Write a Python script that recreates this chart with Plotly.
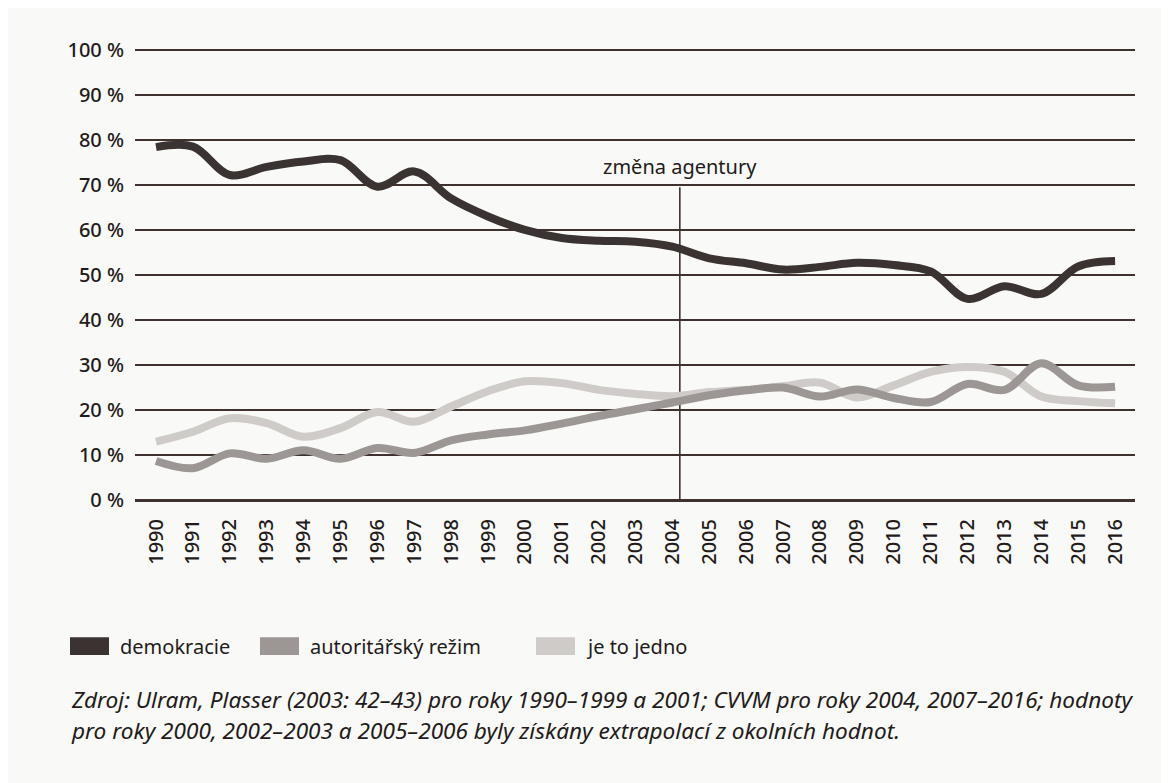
import plotly.graph_objects as go

# ---- data ----
years = list(range(1990, 2017))
year_labels = [str(y) for y in years]

demokracie = [78.4, 78.5, 72.2, 74.0, 75.2, 75.5, 69.6, 73.0, 67.0, 63.0,
              60.0, 58.2, 57.6, 57.4, 56.3, 53.7, 52.6, 51.2, 51.8, 52.7,
              52.2, 50.8, 44.7, 47.5, 45.8, 51.9, 53.1]

autoritarsky = [8.7, 7.1, 10.4, 9.2, 11.1, 9.2, 11.6, 10.5, 13.3, 14.6,
                15.5, 17.0, 18.7, 20.2, 21.7, 23.3, 24.4, 25.0, 23.0, 24.6,
                22.7, 21.8, 25.8, 24.5, 30.4, 25.5, 25.2]

je_to_jedno = [13.0, 15.2, 18.2, 17.1, 14.1, 16.0, 19.6, 17.4, 20.8, 24.2,
               26.4, 26.0, 24.5, 23.6, 23.1, 24.0, 24.5, 25.3, 26.1, 22.8,
               25.5, 28.5, 29.6, 28.5, 23.0, 22.0, 21.5]

series_names = ["demokracie", "autoritářský režim", "je to jedno"]
series_colors = ["#3b3332", "#9c9694", "#cfcbc8"]

y_ticks = list(range(0, 101, 10))
y_tick_labels = [f"{v} %" for v in y_ticks]

agency_change_year = 2004.2
agency_change_top = 69.5
agency_label = "změna agentury"
agency_label_y = 74

source_line1 = "Zdroj: Ulram, Plasser (2003: 42–43) pro roky 1990–1999 a 2001; CVVM pro roky 2004, 2007–2016; hodnoty"
source_line2 = "pro roky 2000, 2002–2003 a 2005–2006 byly získány extrapolací z okolních hodnot."

TEXT = "#231b1a"
GRID = "#3f312e"
FONT = "Noto Sans"
BG = "#f9f9f7"

fig = go.Figure()
# light first, dark last so the dark line is on top
for name, vals, col in reversed(list(zip(series_names,
                                         [demokracie, autoritarsky, je_to_jedno],
                                         series_colors))):
    fig.add_trace(go.Scatter(
        x=years, y=vals, mode="lines", name=name,
        line=dict(color=col, width=8, shape="spline", smoothing=1.0),
        showlegend=False,
    ))

# vertical line marking change of agency
fig.add_shape(type="line", xref="x", yref="y",
              x0=agency_change_year, x1=agency_change_year,
              y0=0, y1=agency_change_top,
              line=dict(color=GRID, width=1.6), layer="below")
fig.add_annotation(x=agency_change_year, y=agency_label_y, xref="x", yref="y",
                   text=agency_label, showarrow=False,
                   font=dict(family=FONT, size=20, color=TEXT))

# custom legend (rectangles + labels)
legend_x = [-0.065, 0.125, 0.401]
for xs, name, col in zip(legend_x, series_names, series_colors):
    fig.add_shape(type="rect", xref="paper", yref="paper",
                  x0=xs, x1=xs + 0.039, y0=-0.337, y1=-0.298,
                  line=dict(width=0), fillcolor=col)
    fig.add_annotation(x=xs + 0.048, y=-0.3175, xref="paper", yref="paper",
                       xanchor="left", yanchor="middle", text=name,
                       showarrow=False,
                       font=dict(family=FONT, size=20, color=TEXT))

# source note
fig.add_annotation(x=-0.066, y=-0.435, xref="paper", yref="paper",
                   xanchor="left", yanchor="middle",
                   text=f"<i>{source_line1}</i>", showarrow=False,
                   font=dict(family=FONT, size=22.6, color=TEXT))
fig.add_annotation(x=-0.066, y=-0.503, xref="paper", yref="paper",
                   xanchor="left", yanchor="middle",
                   text=f"<i>{source_line2}</i>", showarrow=False,
                   font=dict(family=FONT, size=22.6, color=TEXT))

# page body has an 8px margin, so the figure is 8px smaller and margins shifted
fig.update_layout(
    width=1161, height=775,
    margin=dict(l=127, r=34, t=40, b=281),
    paper_bgcolor=BG, plot_bgcolor=BG,
    font=dict(family=FONT, color=TEXT),
    showlegend=False,
)
fig.update_xaxes(
    range=[1989.43, 2016.54], tickmode="array", tickvals=years, ticktext=year_labels,
    tickangle=-90, showgrid=False, zeroline=False, showline=False, ticks="",
    ticklabelstandoff=12, tickfont=dict(family=FONT, size=20, color=TEXT, weight=500),
)
fig.update_yaxes(
    range=[-0.4, 100.4], tickmode="array", tickvals=y_ticks, ticktext=y_tick_labels,
    showgrid=True, gridcolor=GRID, gridwidth=1.7,
    zeroline=True, zerolinecolor=GRID, zerolinewidth=2.8,
    showline=False, ticks="", ticklabelstandoff=10,
    tickfont=dict(family=FONT, size=20, color=TEXT, weight=500),
)

fig.write_html("out.html")
